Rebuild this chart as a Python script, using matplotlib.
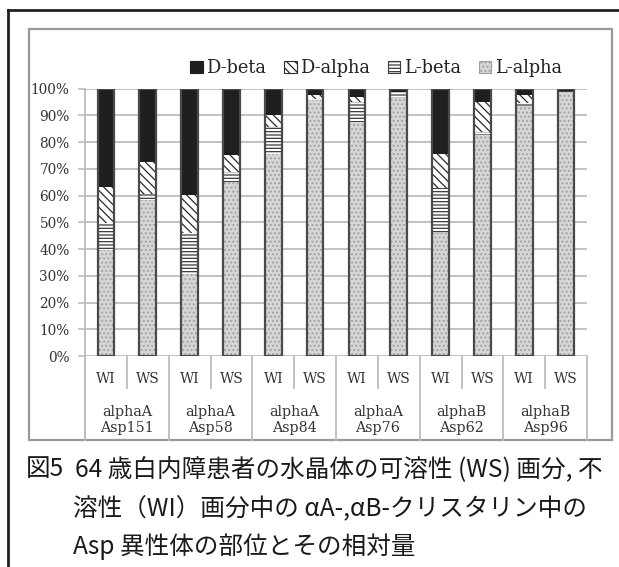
import matplotlib
matplotlib.use("Agg")
import matplotlib.pyplot as plt
from matplotlib.lines import Line2D
from matplotlib.patches import Patch, Rectangle
import numpy as np

# data (percent of each Asp isomer)
groups = ['alphaA\nAsp151', 'alphaA\nAsp58', 'alphaA\nAsp84',
          'alphaA\nAsp76', 'alphaB\nAsp62', 'alphaB\nAsp96']
fractions = ['WI', 'WS']
l_alpha = [39.5, 58.2, 30.8, 65.2, 75.6, 95.7, 87.5, 96.6, 46.1, 82.8, 93.4, 98.8]
l_beta = [10.4, 2.5, 15.3, 3.7, 10.1, 0.5, 7.7, 2.0, 16.8, 1.0, 1.2, 0.3]
d_alpha = [13.4, 11.9, 14.3, 6.2, 4.3, 1.5, 1.7, 0.2, 12.7, 11.2, 2.9, 0.1]
d_beta = [36.7, 27.4, 39.6, 24.9, 10.0, 2.3, 3.1, 1.2, 24.4, 5.0, 2.5, 0.8]
yticks = [0, 10, 20, 30, 40, 50, 60, 70, 80, 90, 100]

fig_label = '図5'
caption = ['64 歳白内障患者の水晶体の可溶性 (WS) 画分, 不',
           '溶性（WI）画分中の αA-,αB-クリスタリン中の',
           'Asp 異性体の部位とその相対量']

W, H = 619, 567
plt.rcParams['hatch.linewidth'] = 0.9
fig = plt.figure(figsize=(W / 100, H / 100), dpi=100)


def fx(px):
    return px / W


def fy(py):
    return 1 - py / H


ax_l, ax_r, ax_t, ax_b = 85, 587, 88.7, 356
ax = fig.add_axes([fx(ax_l), fy(ax_b), fx(ax_r - ax_l), (ax_b - ax_t) / H])

series = [
    ('L-alpha', l_alpha, '#d6d6d6', '....', '#a0a0a0'),
    ('L-beta', l_beta, 'white', '-----', '#3a3a3a'),
    ('D-alpha', d_alpha, 'white', '\\\\\\\\', '#2a2a2a'),
    ('D-beta', d_beta, '#1f1f1f', None, '#1f1f1f'),
]

x = np.arange(len(l_alpha))
bottom = np.zeros(len(x))
handles = []
for name, vals, face, hatch, hcol in series:
    vals = np.array(vals)
    ax.bar(x, vals, 0.4, bottom=bottom, color=face, hatch=hatch,
           edgecolor=hcol, linewidth=0, zorder=3)
    handles.append(Patch(facecolor=face, hatch=hatch, edgecolor=hcol,
                         linewidth=0.8, label=name))
    bottom += vals
# bar outlines
ax.bar(x, bottom, 0.4, fill=False, edgecolor='#4a4a4a', linewidth=1.6, zorder=4)

ax.set_xlim(-0.5, len(x) - 0.5)
ax.set_ylim(0, 100)
ax.set_yticks(yticks)
ax.set_yticklabels(['{}%'.format(v) for v in yticks], family='DejaVu Serif',
                   fontsize=9.8, color='#333333')
ax.tick_params(axis='y', length=5, width=1.2, color='#bdbdbd', pad=6)
ax.set_xticks([])
ax.grid(axis='y', color='#bdbdbd', linewidth=1.3, zorder=0)
for s in ['top', 'right', 'bottom']:
    ax.spines[s].set_visible(False)
ax.spines['left'].set_color('#bdbdbd')
ax.spines['left'].set_linewidth(1.3)

# category table below the plot
gray = '#bdbdbd'
slot = (ax_r - ax_l) / len(x)
for i, g in enumerate(groups):
    gx0 = ax_l + 2 * i * slot
    fig.add_artist(Line2D([fx(gx0), fx(gx0)], [fy(ax_b), fy(440)], color=gray, lw=1.3))
    mid = gx0 + slot
    fig.add_artist(Line2D([fx(mid), fx(mid)], [fy(ax_b), fy(388)], color=gray, lw=1.3))
    for j, f in enumerate(fractions):
        fig.text(fx(gx0 + (j + 0.5) * slot), fy(379), f, ha='center', va='center',
                 family='DejaVu Serif', fontsize=10, color='#333333')
    fig.text(fx(mid), fy(420), g, ha='center', va='center', family='DejaVu Serif',
             fontsize=10.3, color='#333333', linespacing=1.25)
fig.add_artist(Line2D([fx(ax_r), fx(ax_r)], [fy(ax_b), fy(440)], color=gray, lw=1.3))
fig.add_artist(Line2D([fx(ax_l), fx(ax_l)], [fy(ax_b), fy(440)], color=gray, lw=1.3))

# chart box and outer frame
fig.add_artist(Rectangle((fx(29), fy(440)), fx(612 - 29), (440 - 29) / H,
                         fill=False, edgecolor='#9a9a9a', lw=1.6))
fig.add_artist(Line2D([fx(8), fx(8)], [fy(10), fy(567)], color='#222222', lw=2))
fig.add_artist(Line2D([fx(8), 1], [fy(10), fy(10)], color='#222222', lw=2))

leg = fig.legend(handles=handles[::-1], loc='center',
                 bbox_to_anchor=(fx(376), fy(68)), ncol=4, frameon=False,
                 handlelength=0.7, handleheight=0.7, handletextpad=0.2,
                 columnspacing=1.0, prop={'family': 'DejaVu Serif', 'size': 12.8})
for t in leg.get_texts():
    t.set_color('#222222')

# caption
cjk = ['Noto Sans CJK JP', 'DejaVu Sans']
cap_size = 17.7
fig.text(fx(26), fy(469), fig_label, ha='left', va='center', family=cjk,
         fontsize=cap_size, color='#1a1a1a')
for line, x0, y0 in zip(caption, [75, 73, 73], [469, 508, 547]):
    fig.text(fx(x0), fy(y0), line, ha='left', va='center', family=cjk,
             fontsize=cap_size, color='#1a1a1a')

fig.savefig('out.png', dpi=100)
